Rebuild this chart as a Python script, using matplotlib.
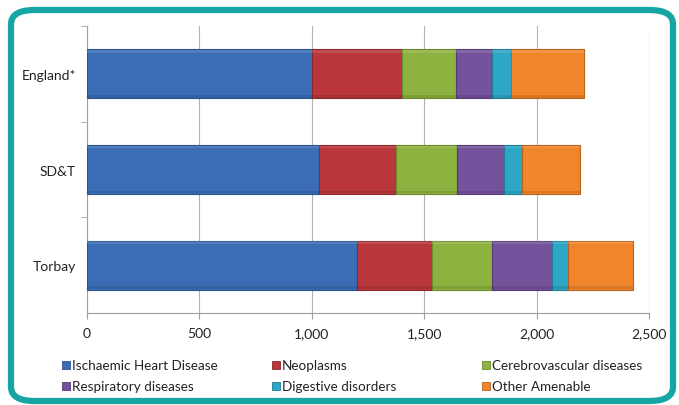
import numpy as np
import matplotlib.pyplot as plt
from matplotlib.patches import FancyBboxPatch, Rectangle

# Amenable mortality by cause, per area
areas = ['Torbay', 'SD&T', 'England*']
causes = ['Ischaemic Heart Disease', 'Neoplasms', 'Cerebrovascular diseases',
          'Respiratory diseases', 'Digestive disorders', 'Other Amenable']

ihd = [1200, 1031, 1002]
neoplasms = [335, 343, 401]
cerebro = [265, 273, 240]
respiratory = [270, 209, 159]
digestive = [70, 77, 82]
other = [291, 258, 326]

series = [ihd, neoplasms, cerebro, respiratory, digestive, other]
colors = ['#3a6db5', '#b9373a', '#8db23f', '#74529c', '#2ea6c5', '#f0852b']
edges = ['#2a528c', '#8c2628', '#6a8a2c', '#553a76', '#1f7d96', '#b8621c']

plt.rcParams['font.family'] = ['Lato', 'DejaVu Sans']

fig = plt.figure(figsize=(6.79, 4.06), dpi=100)
W, H = 679, 406

# rounded teal frame around the whole chart
frame = FancyBboxPatch((11 / W, 4 / H), 662 / W, 391 / H,
                       boxstyle='round,pad=0,rounding_size=0.035',
                       transform=fig.transFigure, facecolor='none',
                       edgecolor='#17a5a3', linewidth=4.5, zorder=5)
fig.patches.append(frame)

ax = fig.add_axes([87 / W, 1 - 314 / H, 562 / W, 287 / H])
ax.set_facecolor('none')

y = np.arange(len(areas))
left = np.zeros(len(areas))
for vals, col, ec in zip(series, colors, edges):
    ax.barh(y, vals, left=left, height=0.51, color=col, edgecolor=ec,
            linewidth=0.8, zorder=3)
    # soft bevel: lighter top edge, darker bottom edge
    ax.barh(y + 0.235, vals, left=left, height=0.03, color='white',
            alpha=0.12, linewidth=0, zorder=4)
    ax.barh(y - 0.235, vals, left=left, height=0.03, color='black',
            alpha=0.10, linewidth=0, zorder=4)
    left += np.array(vals)

ax.set_xlim(0, 2500)
ax.set_ylim(-0.5, 2.5)
ax.set_xticks(np.arange(0, 2501, 500))
ax.set_xticklabels(['0', '500', '1,000', '1,500', '2,000', '2,500'])
ax.set_yticks(y)
ax.set_yticklabels(areas)
ax.set_yticks([0.5, 1.5, 2.5], minor=True)
ax.tick_params(axis='y', which='major', length=0, pad=8, labelsize=10,
               labelcolor='#222222')
ax.tick_params(axis='y', which='minor', length=4, color='#a0a0a0')
ax.tick_params(axis='x', length=4, color='#a0a0a0', pad=6, labelsize=10,
               labelcolor='#222222')

ax.grid(axis='x', color='#b3b3b3', linewidth=0.8, zorder=0)
for side in ['top', 'right']:
    ax.spines[side].set_visible(False)
for side in ['left', 'bottom']:
    ax.spines[side].set_color('#a0a0a0')
    ax.spines[side].set_linewidth(0.8)

# legend laid out in two rows of three
col_x = [62, 272, 482]
row_y = [366, 387]
for i, (name, col, ec) in enumerate(zip(causes, colors, edges)):
    cx = col_x[i % 3]
    cy = row_y[i // 3]
    fig.patches.append(Rectangle((cx / W, 1 - (cy + 4) / H), 8 / W, 8 / H,
                                 transform=fig.transFigure, facecolor=col,
                                 edgecolor=ec, linewidth=0.6))
    fig.text((cx + 10) / W, 1 - cy / H, name, fontsize=9.7, color='#222222',
             va='center', ha='left')

fig.savefig('out.png', dpi=100)
